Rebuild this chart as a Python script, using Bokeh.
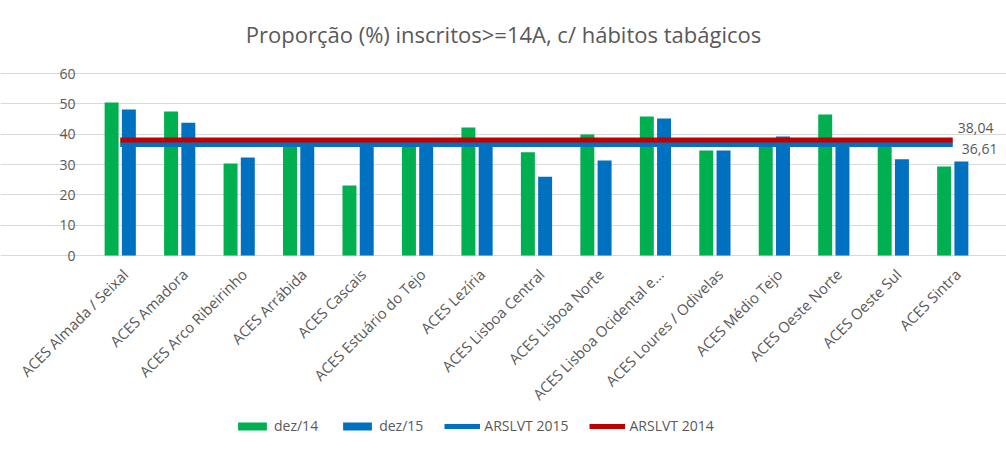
from math import pi
from bokeh.plotting import figure
from bokeh.models import Legend, LegendItem, ColumnDataSource, Range1d, FixedTicker
from bokeh.transform import dodge
from bokeh.core.properties import value
from bokeh.embed import file_html
from bokeh.resources import INLINE

title = "Proporção (%) inscritos>=14A, c/ hábitos tabágicos"
categories = ["ACES Almada / Seixal", "ACES Amadora", "ACES Arco Ribeirinho", "ACES Arrábida",
              "ACES Cascais", "ACES Estuário do Tejo", "ACES Lezíria", "ACES Lisboa Central",
              "ACES Lisboa Norte", "ACES Lisboa Ocidental e...", "ACES Loures / Odivelas",
              "ACES Médio Tejo", "ACES Oeste Norte", "ACES Oeste Sul", "ACES Sintra"]
dez14 = [50.4, 47.5, 30.3, 37.0, 23.1, 37.2, 42.2, 34.0, 39.9, 45.8, 34.6, 37.0, 46.5, 37.0, 29.3]
dez15 = [48.1, 43.8, 32.3, 37.2, 37.0, 37.1, 37.0, 26.0, 31.3, 45.2, 34.6, 39.2, 37.0, 31.7, 31.0]
arslvt_2015 = 36.61
arslvt_2014 = 38.04
y_ticks = [0, 10, 20, 30, 40, 50, 60]

FONT = "Open Sans"
GREY = "#595959"
GRID = "#d9d9d9"

n = len(categories)
idx = list(range(n))
src = ColumnDataSource(dict(x=idx, d14=dez14, d15=dez15, name=categories, zero=[0] * n))
tick_src = ColumnDataSource(dict(y=y_ticks, label=[str(t) for t in y_ticks],
                                 x=[-0.5] * len(y_ticks)))

# the plot frame covers the whole canvas, so that the title, rotated category labels,
# value-axis labels and the legend are all drawn inside it
W, H = 1006, 455
TOP_PX = 73                   # top of the value area
LEFT_PX = 90                  # left edge of the value area
TITLE_PX = 33                 # vertical centre of the title
PX_PER_CAT = 892 / n          # width of one category slot
PX_PER_UNIT = 182 / 60        # height of one value unit
x_start = -0.5 - LEFT_PX / PX_PER_CAT
x_end = x_start + W / PX_PER_CAT
y_end = y_ticks[-1] + TOP_PX / PX_PER_UNIT
y_start = y_end - H / PX_PER_UNIT

p = figure(width=W, height=H, frame_width=W, frame_height=H,
           x_range=Range1d(x_start, x_end), y_range=Range1d(y_start, y_end),
           output_backend="svg", toolbar_location=None)
p.min_border_left = 0
p.min_border_right = 0
p.min_border_top = 0
p.min_border_bottom = 0
p.background_fill_color = "white"
p.border_fill_color = "white"
p.outline_line_color = None

# title
p.text(x=[x_start + (W / 2) / PX_PER_CAT], y=[y_ticks[-1] + (TOP_PX - TITLE_PX) / PX_PER_UNIT],
       text=[title], text_align="center", text_baseline="middle", text_font=value(FONT),
       text_font_size="22px", text_color=GREY)

b1 = p.vbar(x=dodge("x", -0.145), top="d14", width=0.235, source=src,
            fill_color="#00B050", line_color=None)
b2 = p.vbar(x=dodge("x", 0.145), top="d15", width=0.235, source=src,
            fill_color="#0070C0", line_color=None)
l1 = p.line(x=[idx[0], idx[-1]], y=[arslvt_2015, arslvt_2015],
            line_color="#0070C0", line_width=5)
l2 = p.line(x=[idx[0], idx[-1]], y=[arslvt_2014, arslvt_2014],
            line_color="#C00000", line_width=5)

p.text(x=[idx[-1]], y=[arslvt_2014], text=[f"{arslvt_2014:.2f}".replace(".", ",")],
       x_offset=5, y_offset=-7, text_font=value(FONT),
       text_font_size="14px", text_color=GREY, text_baseline="bottom", text_align="left")
p.text(x=[idx[-1]], y=[arslvt_2015], text=[f"{arslvt_2015:.2f}".replace(".", ",")],
       x_offset=9, y_offset=0, text_font=value(FONT),
       text_font_size="14px", text_color=GREY, text_baseline="top", text_align="left")

# category labels (rotated 45°)
p.text(x="x", y="zero", text="name", source=src, angle=pi / 4, x_offset=5, y_offset=16,
       text_align="right", text_baseline="middle", text_font=value(FONT),
       text_font_size="14.8px", text_color=GREY)

# value-axis labels
p.text(x="x", y="y", text="label", source=tick_src, x_offset=-15,
       text_align="right", text_baseline="middle", text_font=value(FONT),
       text_font_size="14px", text_color=GREY)

p.xaxis.visible = False
p.yaxis.visible = False
p.xgrid.grid_line_color = None
p.ygrid.ticker = FixedTicker(ticks=y_ticks)
p.ygrid.grid_line_color = GRID
p.ygrid.bounds = (-0.5, n - 0.5)

legend = Legend(items=[LegendItem(label="dez/14", renderers=[b1]),
                       LegendItem(label="dez/15", renderers=[b2]),
                       LegendItem(label="ARSLVT 2015", renderers=[l1]),
                       LegendItem(label="ARSLVT 2014", renderers=[l2])],
                orientation="horizontal", location=(234, 20), border_line_color=None,
                label_text_font=FONT, label_text_font_size="14px", label_text_color=GREY,
                glyph_width=36, glyph_height=10, spacing=21, label_standoff=4,
                padding=0, margin=0, background_fill_alpha=0)
p.add_layout(legend, "center")

open("out.html", "w").write(file_html(p, INLINE))
